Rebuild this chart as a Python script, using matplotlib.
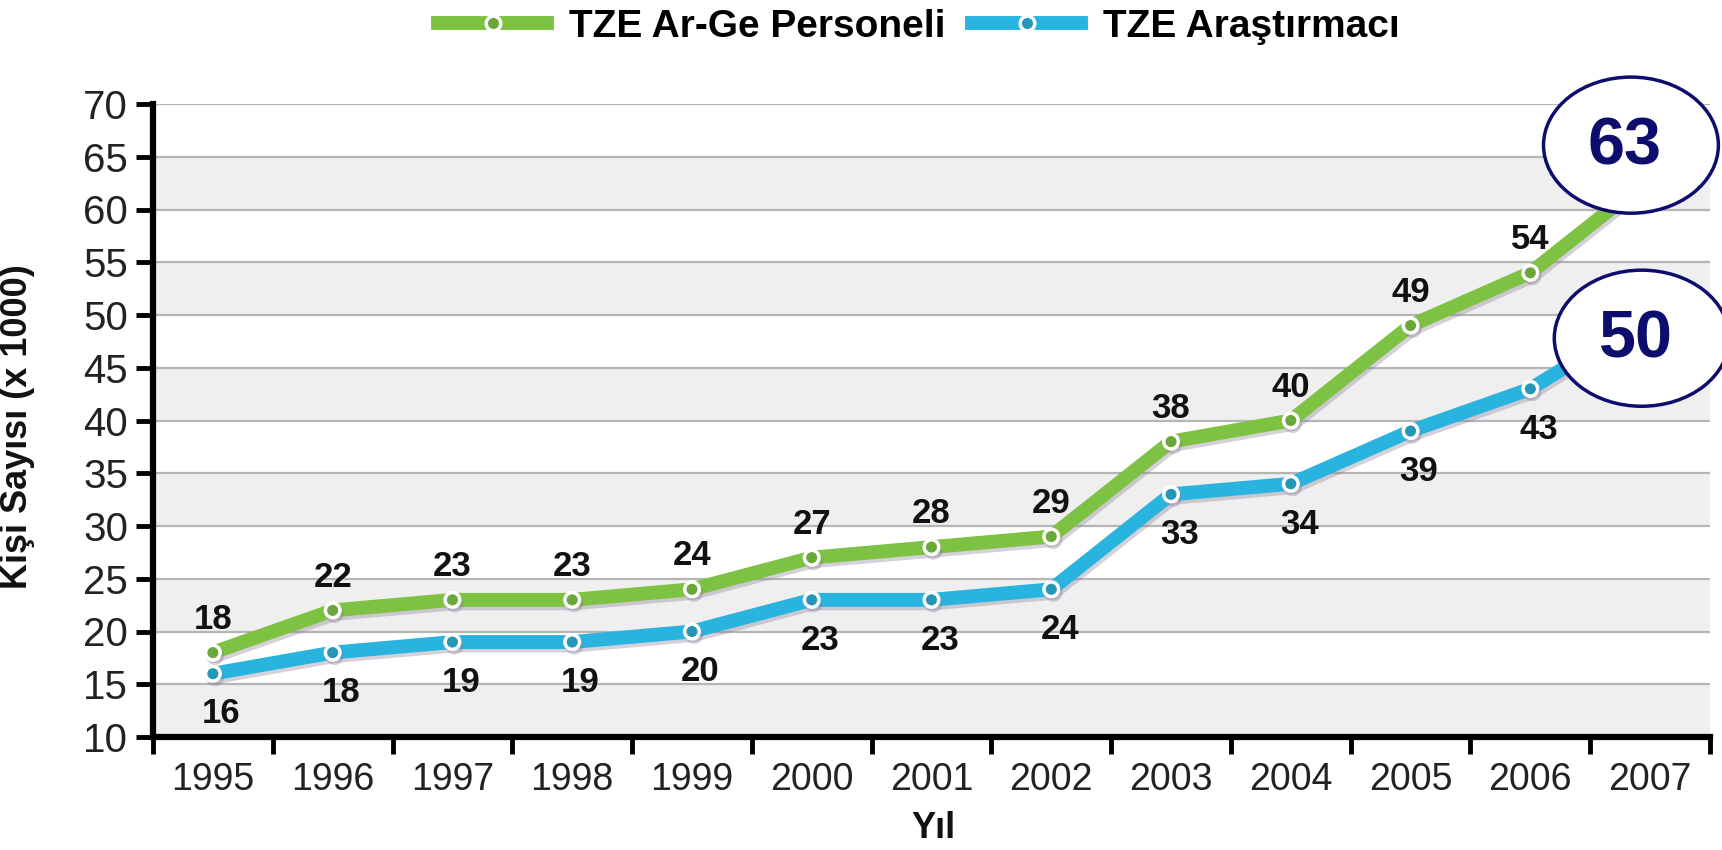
import numpy as np
import matplotlib
matplotlib.use("Agg")
import matplotlib.pyplot as plt
from matplotlib.patches import Ellipse
from matplotlib.lines import Line2D
import matplotlib.patheffects as pe

plt.rcParams['font.family'] = ['Liberation Sans', 'DejaVu Sans']

years = ['1995', '1996', '1997', '1998', '1999', '2000', '2001',
         '2002', '2003', '2004', '2005', '2006', '2007']
personel = [18, 22, 23, 23, 24, 27, 28, 29, 38, 40, 49, 54, 63]
arastirmaci = [16, 18, 19, 19, 20, 23, 23, 24, 33, 34, 39, 43, 50]
series_names = ['TZE Ar-Ge Personeli', 'TZE Araştırmacı']
y_ticks = list(range(10, 75, 5))

GREEN = '#7dc242'
BLUE = '#29b4e0'
NAVY = '#0d0d6e'

W, H = 1722, 850
fig = plt.figure(figsize=(W / 100, H / 100), dpi=100)
L, R, T, B = 153, 1710, 104, 737
ax = fig.add_axes([L / W, 1 - B / H, (R - L) / W, (B - T) / H])

x = np.arange(len(years))
ax.set_xlim(-0.5, len(years) - 0.5)
ax.set_ylim(10, 70)

# alternating bands and gridlines
for lo in range(10, 70, 10):
    ax.axhspan(lo, lo + 5, color='#efefef', zorder=0, lw=0)
for yv in y_ticks[1:]:
    ax.axhline(yv, color='#b5b5b5', lw=1.6, zorder=1)

shadow = [pe.SimpleLineShadow(offset=(1.5, -2.5), shadow_color='#8a7a95', alpha=0.35),
          pe.Normal()]

ax.plot(x, personel, color=GREEN, lw=10, marker='o', ms=10.5,
        mfc='#6aa83a', mec='white', mew=2.5, zorder=4,
        solid_joinstyle='round', solid_capstyle='round', path_effects=shadow)
ax.plot(x, arastirmaci, color=BLUE, lw=10, marker='o', ms=10.5,
        mfc='#2596b8', mec='white', mew=2.5, zorder=4,
        solid_joinstyle='round', solid_capstyle='round', path_effects=shadow)

# data labels (the last year's values are shown in the ellipses)
for i in range(len(years) - 1):
    ax.annotate(str(personel[i]), (x[i], personel[i]), xytext=(0, 24),
                textcoords='offset points', ha='center', va='center',
                fontsize=25, fontweight='bold', color='#111111', zorder=6)
    ax.annotate(str(arastirmaci[i]), (x[i], arastirmaci[i]), xytext=(6, -29),
                textcoords='offset points', ha='center', va='center',
                fontsize=25, fontweight='bold', color='#111111', zorder=6)

# highlighted final values
for (cx, cy), val in [((11.84, 66.1), personel[-1]), ((11.93, 47.8), arastirmaci[-1])]:
    e = Ellipse((cx, cy), 1.46, 12.9, facecolor='white', edgecolor=NAVY,
                lw=2.5, zorder=10, clip_on=False)
    ax.add_patch(e)
    ax.text(cx - 0.05, cy - 0.2, str(val), ha='center', va='center', fontsize=48,
            fontweight='bold', color=NAVY, zorder=11, clip_on=False)

# spines
for s in ['top', 'right']:
    ax.spines[s].set_visible(False)
for s in ['left', 'bottom']:
    ax.spines[s].set_linewidth(4.5)
    ax.spines[s].set_color('black')
    ax.spines[s].set_zorder(7)

ax.set_yticks(y_ticks)
ax.set_yticklabels([str(v) for v in y_ticks])
ax.tick_params(axis='y', direction='out', length=12, width=3.5, pad=6,
               labelsize=29, labelcolor='#222222')

ax.set_xticks(np.arange(-0.5, len(years), 1.0))
ax.set_xticklabels([])
ax.tick_params(axis='x', which='major', direction='out', length=12, width=3.5)
ax.set_xticks(x, minor=True)
ax.set_xticklabels(years, minor=True)
ax.tick_params(axis='x', which='minor', length=0, pad=18, labelsize=27,
               labelcolor='#222222')

ax.set_ylabel('Kişi Sayısı (x 1000)', fontsize=26, fontweight='bold', color='#111111')
ax.yaxis.set_label_coords((35 - L) / (R - L), 0.49)
fig.text(933 / W, 1 - 829 / H, 'Yıl', ha='center', va='center',
         fontsize=26, fontweight='bold', color='#111111')

handles = [Line2D([], [], color=GREEN, lw=10, marker='o', ms=10.5, mfc='#6aa83a',
                  mec='white', mew=2.5),
           Line2D([], [], color=BLUE, lw=10, marker='o', ms=10.5, mfc='#2596b8',
                  mec='white', mew=2.5)]
leg = fig.legend(handles, series_names, loc='center', ncol=2,
                 bbox_to_anchor=(919 / W, 1 - 27 / H), frameon=False,
                 prop={'size': 28, 'weight': 'bold'}, handlelength=2.8,
                 handletextpad=0.55, columnspacing=0.7, borderpad=0.1)

fig.savefig('out.png', dpi=100, facecolor='white')
